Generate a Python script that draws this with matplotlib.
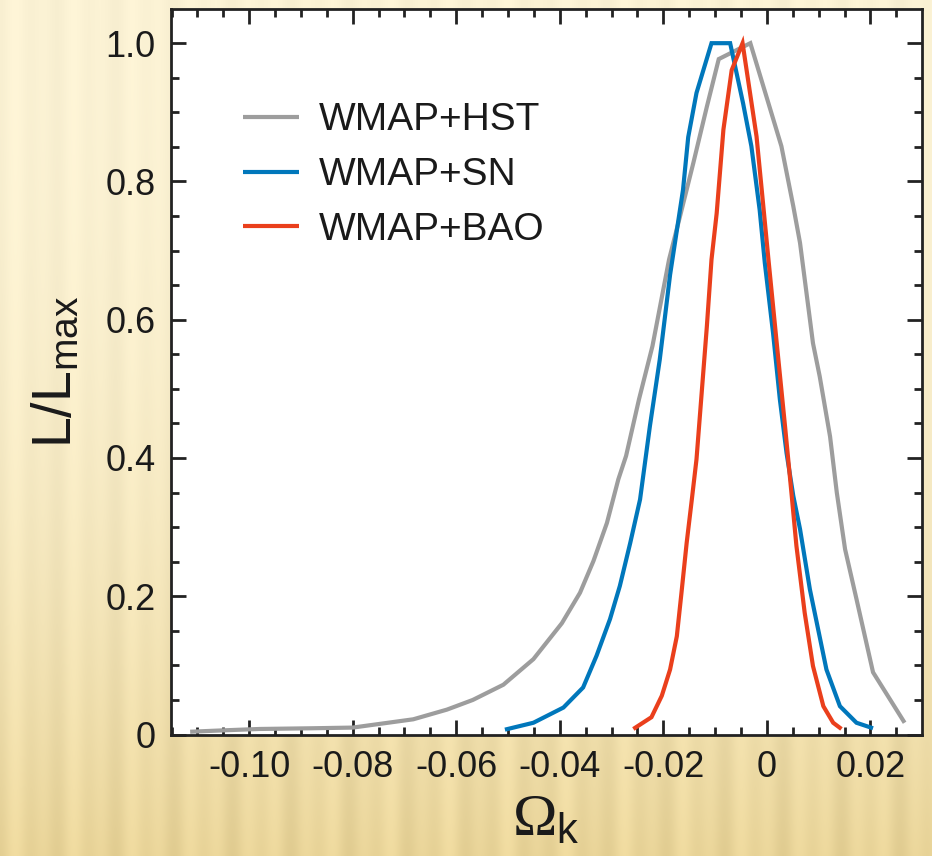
import numpy as np
import matplotlib
matplotlib.use("Agg")
import matplotlib.pyplot as plt
from matplotlib.ticker import MultipleLocator, FixedLocator, FixedFormatter

plt.rcParams['font.family'] = ['Liberation Sans', 'DejaVu Sans']
plt.rcParams['axes.unicode_minus'] = False
plt.rcParams['mathtext.fontset'] = 'custom'
plt.rcParams['mathtext.rm'] = 'Liberation Serif'
plt.rcParams['mathtext.sf'] = 'Liberation Sans'
plt.rcParams['mathtext.it'] = 'Liberation Serif:italic'

# Marginalised likelihood of the curvature parameter for three data combinations
hst_x = [-0.1114, -0.105, -0.098, -0.088, -0.080, -0.0683, -0.0618, -0.0568, -0.0509,
         -0.0451, -0.0396, -0.0361, -0.0335, -0.0309, -0.0287, -0.0272, -0.0247, -0.0221,
         -0.0189, -0.0168, -0.0142, -0.0116, -0.0093, -0.0032, 0.0028, 0.0051, 0.0064,
         0.0089, 0.0102, 0.0122, 0.0135, 0.0151, 0.0173, 0.0205, 0.0266]
hst_y = [0.004, 0.006, 0.008, 0.009, 0.010, 0.022, 0.036, 0.050, 0.072,
         0.109, 0.161, 0.205, 0.251, 0.306, 0.369, 0.403, 0.485, 0.562,
         0.687, 0.749, 0.827, 0.908, 0.977, 1.000, 0.851, 0.764, 0.711,
         0.566, 0.518, 0.431, 0.350, 0.268, 0.196, 0.090, 0.017]

sn_x = [-0.0506, -0.0451, -0.0393, -0.0355, -0.0329, -0.0303, -0.0284, -0.0264, -0.0245,
        -0.0226, -0.0207, -0.0187, -0.0162, -0.0152, -0.0136, -0.0107, -0.0071, -0.0046,
        -0.0030, -0.0014, -0.0004, 0.0012, 0.0025, 0.0038, 0.0051, 0.0064, 0.0083,
        0.0115, 0.0141, 0.0173, 0.0205]
sn_y = [0.007, 0.017, 0.039, 0.068, 0.114, 0.167, 0.215, 0.277, 0.340,
        0.446, 0.542, 0.665, 0.788, 0.864, 0.928, 1.000, 1.000, 0.913,
        0.851, 0.759, 0.682, 0.580, 0.485, 0.407, 0.345, 0.297, 0.210,
        0.094, 0.041, 0.017, 0.009]

bao_x = [-0.0258, -0.0223, -0.0203, -0.0187, -0.0174, -0.0165, -0.0155, -0.0145, -0.0136,
         -0.0126, -0.0116, -0.0107, -0.0097, -0.0084, -0.0068, -0.0047, -0.0033, -0.0020,
         -0.0010, 0.0003, 0.0019, 0.0035, 0.0048, 0.0057, 0.0073, 0.0089, 0.0109,
         0.0128, 0.0144]
bao_y = [0.008, 0.025, 0.056, 0.094, 0.142, 0.205, 0.277, 0.340, 0.398,
         0.494, 0.590, 0.687, 0.754, 0.875, 0.961, 1.000, 0.930, 0.865,
         0.788, 0.687, 0.566, 0.446, 0.345, 0.273, 0.176, 0.099, 0.041,
         0.017, 0.008]

series_labels = ['WMAP+HST', 'WMAP+SN', 'WMAP+BAO']
series_colors = ['#9d9d9d', '#0077bb', '#ea3f1c']

x_ticks = [-0.10, -0.08, -0.06, -0.04, -0.02, 0.0, 0.02]
x_ticklabels = ['-0.10', '-0.08', '-0.06', '-0.04', '-0.02', '0', '0.02']
y_ticks = [0.0, 0.2, 0.4, 0.6, 0.8, 1.0]
y_ticklabels = ['0', '0.2', '0.4', '0.6', '0.8', '1.0']

W, H = 932, 856
fig = plt.figure(figsize=(W / 100, H / 100), dpi=100)

# warm striped backdrop behind the plot frame
bg = fig.add_axes([0, 0, 1, 1])
bg.set_axis_off()
xx = np.arange(W)
yy = np.arange(H)[:, None]
stripe = (0.55 * np.cos(2 * np.pi * xx / 29.0) + 0.45 * np.cos(2 * np.pi * xx / 61.0 + 1.3))
stripe = stripe[None, :]
t = (yy / H) ** 2.2
light = np.array([251, 242, 212]) / 255.0
dark = np.array([233, 212, 152]) / 255.0
base = light[None, None, :] * (1 - t[..., None]) + dark[None, None, :] * t[..., None]
shade = 0.022 * stripe[..., None] * (0.7 + 0.8 * t[..., None])
img = np.clip(base - shade, 0, 1)
bg.imshow(img, aspect='auto', extent=[0, 1, 0, 1], origin='upper', zorder=0)

ax = fig.add_axes([171 / W, 1 - 734.5 / H, (921.7 - 171) / W, (734.5 - 9.3) / H])
ax.set_facecolor('white')

for xs, ys, lab, col in zip([hst_x, sn_x, bao_x], [hst_y, sn_y, bao_y],
                            series_labels, series_colors):
    ax.plot(xs, ys, color=col, lw=3.0, label=lab, solid_joinstyle='miter',
            solid_capstyle='butt', zorder=3)

ax.set_xlim(-0.1151, 0.0299)
ax.set_ylim(0.0, 1.049)

ax.xaxis.set_major_locator(FixedLocator(x_ticks))
ax.xaxis.set_major_formatter(FixedFormatter(x_ticklabels))
ax.xaxis.set_minor_locator(MultipleLocator(0.005))
ax.yaxis.set_major_locator(FixedLocator(y_ticks))
ax.yaxis.set_major_formatter(FixedFormatter(y_ticklabels))
ax.yaxis.set_minor_locator(MultipleLocator(0.05))

ax.tick_params(which='both', direction='in', top=True, right=True,
               color='#222222', width=2.0, labelsize=26, labelcolor='#1a1a1a')
ax.tick_params(which='major', length=11)
ax.tick_params(which='minor', length=5.5)
ax.tick_params(axis='x', which='major', pad=11)
ax.tick_params(axis='y', which='major', pad=11)
for sp in ax.spines.values():
    sp.set_linewidth(2.0)
    sp.set_color('#222222')

ax.set_xlabel(r'$\Omega_{\mathsf{k}}$', fontsize=43, labelpad=6, color='#1a1a1a')
ax.set_ylabel(r'L/L$_{\mathsf{max}}$', fontsize=40, labelpad=16, color='#1a1a1a')

leg = ax.legend(loc='upper left', bbox_to_anchor=(0.075, 0.893), frameon=False,
                fontsize=28, handlelength=1.45, handletextpad=0.5,
                labelspacing=0.48, borderaxespad=0)
for line in leg.get_lines():
    line.set_linewidth(3.0)
for txt in leg.get_texts():
    txt.set_color('#1a1a1a')

fig.savefig('out.png', dpi=100)
